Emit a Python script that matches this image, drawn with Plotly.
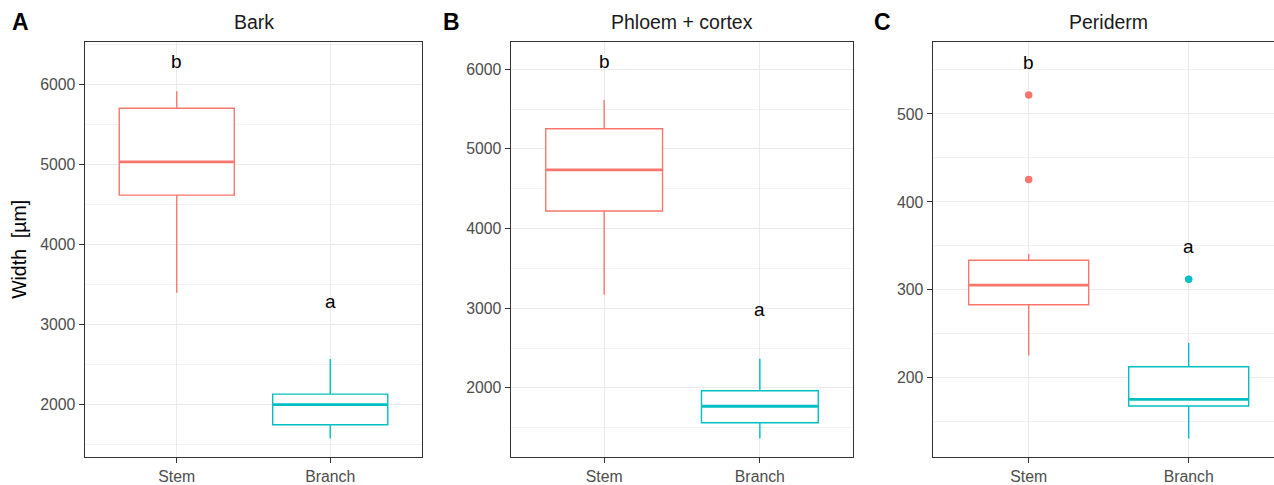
import plotly.graph_objects as go

# ---- data ----
panels = ["Bark", "Phloem + cortex", "Periderm"]
panel_tags = ["A", "B", "C"]
groups = ["Stem", "Branch"]
colors = ["#F8766D", "#00BFC4"]

lower_whisker = [[3399, 1576], [3169, 1364], [225.6, 131.2]]
q1_vals = [[4621, 1749], [4219, 1562], [283.2, 168.2]]
median_vals = [[5037, 2000], [4736, 1769], [305.6, 175.7]]
q3_vals = [[5708, 2132], [5252, 1963], [333.7, 212.7]]
upper_whisker = [[5922, 2572], [5612, 2364], [340.8, 239.7]]
outliers = [[[], []], [[], []], [[521.7, 425.6], [312.3]]]

letters = [["b", "a"], ["b", "a"], ["b", "a"]]
letter_y = [[6288, 3288], [6091, 2983], [559, 349]]

y_ranges = [[1346, 6535], [1132, 6339], [110.2, 581.6]]
y_dtick = [1000, 1000, 100]

# ---- layout geometry (pixels) ----
W, H = 1274, 485
panel_px = [(84.7, 422.3), (510.7, 853.3), (932.7, 1274.0)]
top_px, bot_px = 42.7, 462.7
x_ranges = [[0.4, 2.6], [0.4, 2.6], [0.4, 0.4 + (1274.0 - 932.7) / 160.0]]
box_w = 0.75

fig = go.Figure()
FONT = "Liberation Sans, Arial, sans-serif"

for i in range(3):
    xa = "x" if i == 0 else f"x{i+1}"
    ya = "y" if i == 0 else f"y{i+1}"
    for g in range(2):
        xpos = g + 1
        fig.add_trace(go.Box(
            x=[xpos], q1=[q1_vals[i][g]], median=[median_vals[i][g]], q3=[q3_vals[i][g]],
            lowerfence=[lower_whisker[i][g]], upperfence=[upper_whisker[i][g]],
            width=box_w, fillcolor="white", line=dict(color=colors[g], width=1.4),
            whiskerwidth=0, boxpoints=False, xaxis=xa, yaxis=ya, showlegend=False,
            hoverinfo="skip"))
        # thicker median line
        fig.add_trace(go.Scatter(
            x=[xpos - box_w / 2 + 0.004, xpos + box_w / 2 - 0.004],
            y=[median_vals[i][g]] * 2, mode="lines",
            line=dict(color=colors[g], width=2.8), xaxis=xa, yaxis=ya,
            showlegend=False, hoverinfo="skip"))
        if outliers[i][g]:
            fig.add_trace(go.Scatter(
                x=[xpos] * len(outliers[i][g]), y=outliers[i][g], mode="markers",
                marker=dict(color=colors[g], size=7.5), xaxis=xa, yaxis=ya,
                showlegend=False, hoverinfo="skip"))
        fig.add_annotation(x=xpos, y=letter_y[i][g], text=letters[i][g], xref=xa, yref=ya,
                           xanchor="center", yanchor="middle",
                           showarrow=False, font=dict(family=FONT, size=19, color="black"))

    x0, x1 = panel_px[i]
    dom_x = [x0 / W, x1 / W]
    dom_y = [1 - bot_px / H, 1 - top_px / H]
    axis_common = dict(showline=True, linecolor="#333333", linewidth=1.4,
                       ticks="outside", ticklen=5, tickcolor="#333333", tickwidth=1.4,
                       gridcolor="#EBEBEB", gridwidth=1.4, zeroline=False,
                       tickfont=dict(family=FONT, size=15.8, color="#4D4D4D"))
    fig.layout[("xaxis" if i == 0 else f"xaxis{i+1}")] = dict(
        domain=dom_x, range=x_ranges[i], tickvals=[1, 2], ticktext=groups,
        anchor=ya, mirror=True, fixedrange=True, **axis_common)
    fig.layout[("yaxis" if i == 0 else f"yaxis{i+1}")] = dict(
        domain=dom_y, range=y_ranges[i], dtick=y_dtick[i], tick0=0,
        anchor=xa, mirror=(i < 2), fixedrange=True,
        minor=dict(dtick=y_dtick[i] / 2, showgrid=True, gridcolor="#F2F2F2", gridwidth=1.0, ticks=""),
        **axis_common)

    # strip title
    fig.add_annotation(x=(x0 + x1 if i < 2 else x0 + 1284.7) / 2 / W, y=1 - 22 / H,
                       xref="paper", yref="paper", text=panels[i], showarrow=False,
                       xanchor="center", yanchor="middle",
                       font=dict(family=FONT, size=19.5, color="#1A1A1A"))
    # panel tag
    tag_x = [20, 451, 882][i]
    fig.add_annotation(x=tag_x / W, y=1 - 22 / H, xref="paper", yref="paper",
                       text=f"<b>{panel_tags[i]}</b>", showarrow=False,
                       xanchor="center", yanchor="middle",
                       font=dict(family=FONT, size=23, color="black"))

fig.add_annotation(x=19 / W, y=1 - 253 / H, xref="paper", yref="paper",
                   text="Width  [µm]", textangle=-90, showarrow=False,
                   xanchor="center", yanchor="middle",
                   font=dict(family=FONT, size=19.5, color="black"))

fig.update_layout(width=W, height=H, autosize=False, margin=dict(l=0, r=0, t=0, b=0),
                  plot_bgcolor="white", paper_bgcolor="white", showlegend=False)

post = (
    "var s=document.createElement('style');"
    "s.innerHTML='html,body{margin:0!important;padding:0!important;width:1274px;height:485px;overflow:hidden;}';"
    "document.head.appendChild(s);"
    "var g=document.getElementById('{plot_id}');"
    "g.style.position='absolute';g.style.left='0px';g.style.top='0px';"
)
fig.write_html("out.html", config={"displayModeBar": False, "responsive": False},
               post_script=post)
